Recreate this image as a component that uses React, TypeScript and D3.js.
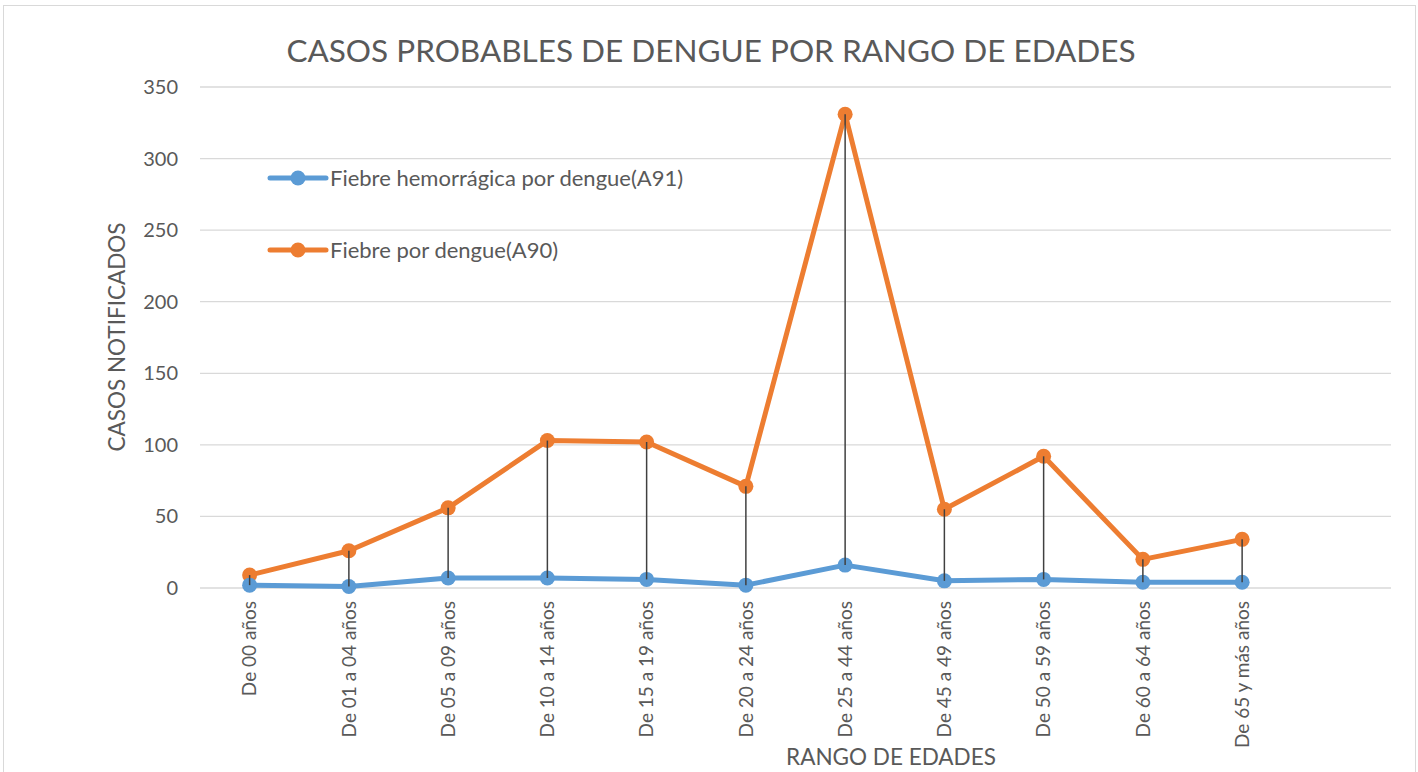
import React from 'react';
import * as d3 from 'd3';

// age ranges (the chart keeps one empty slot at the end)
const categories = [
  'De 00 años',
  'De 01 a 04 años',
  'De 05 a 09 años',
  'De 10 a 14 años',
  'De 15 a 19 años',
  'De 20 a 24 años',
  'De 25 a 44 años',
  'De 45 a 49 años',
  'De 50 a 59 años',
  'De 60 a 64 años',
  'De 65 y más años',
  '',
];
const hemorragica = [2, 1, 7, 7, 6, 2, 16, 5, 6, 4, 4];
const fiebre = [9, 26, 56, 103, 102, 71, 331, 55, 92, 20, 34];
const yTicks = [0, 50, 100, 150, 200, 250, 300, 350];

const W = 1418;
const H = 772;
const margin = { top: 87, right: 27, bottom: 184, left: 200 };
const font = "Lato, 'Open Sans', sans-serif";
const textColor = '#595959';
const blue = '#5B9BD5';
const orange = '#ED7D31';

export default function App() {
  const x = d3
    .scaleBand()
    .domain(categories.map((c, i) => String(i)))
    .range([margin.left, W - margin.right]);
  const cx = (i: number) => (x(String(i)) as number) + x.bandwidth() / 2;

  const y = d3
    .scaleLinear()
    .domain([0, 350])
    .range([H - margin.bottom, margin.top]);

  const line = d3
    .line<number>()
    .x((d, i) => cx(i))
    .y(d => y(d));

  return (
    <svg
      width={W}
      height={H}
      style={{ position: 'absolute', left: 0, top: 0, background: '#fff' }}
      fontFamily={font}
    >
      <rect x={3.5} y={5.5} width={1412} height={780} fill="#fff" stroke="#D9D9D9" />

      {/* grid */}
      {yTicks.map(t => (
        <g key={t}>
          <line
            x1={margin.left}
            x2={W - margin.right}
            y1={y(t)}
            y2={y(t)}
            stroke="#D9D9D9"
            strokeWidth={1.3}
          />
          <text
            x={178}
            y={y(t)}
            dy="0.35em"
            textAnchor="end"
            fontSize={20}
            fill={textColor}
          >
            {t}
          </text>
        </g>
      ))}

      {/* title */}
      <text x={711} y={62} textAnchor="middle" fontSize={31.5} fill={textColor}>
        CASOS PROBABLES DE DENGUE POR RANGO DE EDADES
      </text>

      {/* axis titles */}
      <text
        transform={`translate(125,337) rotate(-90)`}
        textAnchor="middle"
        fontSize={22.5}
        fill={textColor}
      >
        CASOS NOTIFICADOS
      </text>
      <text x={891} y={765} textAnchor="middle" fontSize={22.5} fill={textColor}>
        RANGO DE EDADES
      </text>

      {/* category labels */}
      {categories.map((c, i) => (
        <text
          key={i}
          transform={`translate(${cx(i)},${601}) rotate(-90)`}
          textAnchor="end"
          dy="0.35em"
          fontSize={19}
          fill={textColor}
        >
          {c}
        </text>
      ))}

      {/* series */}
      <path d={line(fiebre) as string} fill="none" stroke={orange} strokeWidth={5} strokeLinejoin="round" />
      <path d={line(hemorragica) as string} fill="none" stroke={blue} strokeWidth={5} strokeLinejoin="round" />
      {fiebre.map((v, i) => (
        <circle key={'o' + i} cx={cx(i)} cy={y(v)} r={7.5} fill={orange} />
      ))}
      {hemorragica.map((v, i) => (
        <circle key={'b' + i} cx={cx(i)} cy={y(v)} r={7.5} fill={blue} />
      ))}

      {/* high-low lines */}
      {fiebre.map((v, i) => (
        <line
          key={'h' + i}
          x1={cx(i)}
          x2={cx(i)}
          y1={y(v)}
          y2={y(hemorragica[i])}
          stroke="#404040"
          strokeWidth={1.5}
        />
      ))}

      {/* legend */}
      <g>
        <line x1={270} x2={326} y1={178} y2={178} stroke={blue} strokeWidth={5} strokeLinecap="round" />
        <circle cx={298} cy={178} r={7.5} fill={blue} />
        <text x={330} y={178} dy="0.35em" fontSize={22} fill={textColor}>
          Fiebre hemorrágica por dengue(A91)
        </text>
        <line x1={270} x2={326} y1={250} y2={250} stroke={orange} strokeWidth={5} strokeLinecap="round" />
        <circle cx={298} cy={250} r={7.5} fill={orange} />
        <text x={330} y={250} dy="0.35em" fontSize={22} fill={textColor}>
          Fiebre por dengue(A90)
        </text>
      </g>
    </svg>
  );
}
